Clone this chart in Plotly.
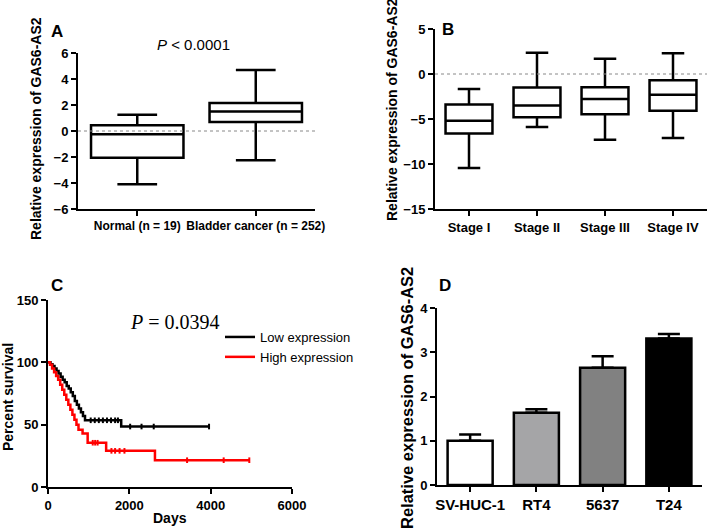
import plotly.graph_objects as go

# panel A: box summaries
a_groups = ["Normal (n = 19)", "Bladder cancer (n = 252)"]
a_low = [-4.1, -2.25]
a_q1 = [-2.05, 0.7]
a_med = [-0.25, 1.5]
a_q3 = [0.45, 2.15]
a_high = [1.25, 4.7]

# panel B: box summaries by stage
b_groups = ["Stage I", "Stage II", "Stage III", "Stage IV"]
b_low = [-10.45, -5.9, -7.3, -7.1]
b_q1 = [-6.6, -4.8, -4.47, -4.07]
b_med = [-5.2, -3.5, -2.77, -2.3]
b_q3 = [-3.4, -1.5, -1.48, -0.7]
b_high = [-1.66, 2.37, 1.7, 2.3]

# panel C: Kaplan-Meier steps
low_days = [0, 60, 110, 160, 210, 260, 310, 360, 410, 460, 510, 560, 610, 660,
            710, 760, 810, 860, 910, 1800, 3960]
low_surv = [100, 98.5, 97, 95, 93, 91, 88.5, 86, 84, 81, 79, 76, 73, 69,
            66, 63, 60, 57, 53.5, 48.5, 48.5]
low_cens_days = [1050, 1150, 1250, 1350, 1450, 1550, 1650, 1720, 2020, 2300, 2600, 3960]
low_cens_surv = [53.5, 53.5, 53.5, 53.5, 53.5, 53.5, 53.5, 53.5, 48.5, 48.5, 48.5, 48.5]

high_days = [0, 50, 100, 150, 200, 250, 300, 350, 400, 450, 500, 550, 600, 650,
             700, 750, 850, 975, 1430, 2630, 4950]
high_surv = [100, 98, 95, 92, 89, 86, 82, 78, 74, 70, 66, 62, 58, 54,
             50, 46, 43, 35.5, 29, 21.5, 21.5]
high_cens_days = [1100, 1160, 1220, 1560, 1650, 1760, 1880, 3420, 4320, 4950]
high_cens_surv = [35.5, 35.5, 35.5, 29, 29, 29, 29, 21.5, 21.5, 21.5]

# panel D: cell lines
d_cells = ["SV-HUC-1", "RT4", "5637", "T24"]
d_mean = [1.0, 1.63, 2.65, 3.31]
d_err = [0.14, 0.08, 0.26, 0.1]
d_colors = ["white", "#a5a5a7", "#818181", "black"]

W, H = 709, 530
FONT = "Arial, Liberation Sans, sans-serif"


def px_x(v):
    return v / W


def px_y(v):
    return 1 - v / H


fig = go.Figure()

box_style = dict(fillcolor="white", line=dict(color="black", width=2.5),
                 boxpoints=False, showlegend=False, hoverinfo="skip")

fig.add_trace(go.Box(x=a_groups, q1=a_q1, median=a_med, q3=a_q3,
                     lowerfence=a_low, upperfence=a_high,
                     width=0.78, whiskerwidth=0.43,
                     xaxis="x", yaxis="y", **box_style))

fig.add_trace(go.Box(x=b_groups, q1=b_q1, median=b_med, q3=b_q3,
                     lowerfence=b_low, upperfence=b_high,
                     width=0.69, whiskerwidth=0.48,
                     xaxis="x2", yaxis="y2", **box_style))

# survival curves
fig.add_trace(go.Scatter(x=low_days, y=low_surv, mode="lines", line_shape="hv",
                         line=dict(color="black", width=2.5),
                         name="Low expression", xaxis="x3", yaxis="y3"))
fig.add_trace(go.Scatter(x=high_days, y=high_surv, mode="lines", line_shape="hv",
                         line=dict(color="#ff0000", width=2.5),
                         name="High expression", xaxis="x3", yaxis="y3"))
fig.add_trace(go.Scatter(x=low_cens_days, y=low_cens_surv, mode="markers",
                         marker=dict(symbol="line-ns", size=4,
                                     line=dict(color="black", width=2)),
                         showlegend=False, xaxis="x3", yaxis="y3"))
fig.add_trace(go.Scatter(x=high_cens_days, y=high_cens_surv, mode="markers",
                         marker=dict(symbol="line-ns", size=4,
                                     line=dict(color="#ff0000", width=2)),
                         showlegend=False, xaxis="x3", yaxis="y3"))

# bars
fig.add_trace(go.Bar(x=d_cells, y=d_mean, width=0.68,
                     marker=dict(color=d_colors, line=dict(color="black", width=2.5)),
                     error_y=dict(type="data", array=d_err, arrayminus=[0] * 4,
                                  symmetric=False, color="black", thickness=2.5, width=11),
                     showlegend=False, xaxis="x4", yaxis="y4"))

axis_common = dict(showline=True, linecolor="black", linewidth=2, ticks="outside",
                   ticklen=5, tickwidth=2, tickcolor="black", showgrid=False,
                   zeroline=False, mirror=False, automargin=False, tickangle=0,
                   tickfont=dict(family=FONT, size=13, color="black", weight="bold"))

fig.update_layout(
    width=W, height=H, autosize=False,
    margin=dict(l=0, r=0, t=0, b=0),
    paper_bgcolor="white", plot_bgcolor="white",
    xaxis=dict(domain=[px_x(78), px_x(315)], anchor="y", range=[-0.5, 1.5], **axis_common),
    yaxis=dict(domain=[px_y(209), px_y(53)], anchor="x", range=[-6, 6], dtick=2, **axis_common),
    xaxis2=dict(domain=[px_x(435), px_x(707)], anchor="y2", range=[-0.5, 3.5], **axis_common),
    yaxis2=dict(domain=[px_y(209), px_y(29)], anchor="x2", range=[-15, 5], dtick=5, **axis_common),
    xaxis3=dict(domain=[px_x(48), px_x(292)], anchor="y3", range=[0, 6000], dtick=2000, **axis_common),
    yaxis3=dict(domain=[px_y(487), px_y(300)], anchor="x3", range=[0, 150], dtick=50, **axis_common),
    xaxis4=dict(domain=[px_x(437), px_x(702)], anchor="y4", range=[-0.5, 3.5], **axis_common),
    yaxis4=dict(domain=[px_y(485), px_y(308)], anchor="x4", range=[0, 4], dtick=1, **axis_common),
    legend=dict(x=px_x(220), y=px_y(322), xanchor="left", yanchor="top",
                bgcolor="rgba(0,0,0,0)", tracegroupgap=0,
                font=dict(family=FONT, size=13, color="black")),
    showlegend=True,
)
fig.update_layout(xaxis_tickfont_size=12, xaxis4_tickfont_size=15)

# dotted zero lines
for xr, yr in [("x", "y"), ("x2", "y2")]:
    fig.add_shape(type="line", xref=f"{xr} domain", yref=yr, x0=0, x1=1, y0=0, y1=0,
                  line=dict(color="#888888", width=1, dash="dot"))

ann = []
title_font = dict(family=FONT, size=14, color="black", weight="bold")
ann.append(dict(text="Relative expression of GAS6-AS2", x=px_x(36), y=px_y(129),
                textangle=-90, font=title_font))
ann.append(dict(text="Relative expression of GAS6-AS2", x=px_x(392), y=px_y(110),
                textangle=-90, font=title_font))
ann.append(dict(text="Relative expression of GAS6-AS2", x=px_x(407), y=px_y(398),
                textangle=-90, font=dict(family=FONT, size=16.5, color="black", weight="bold")))
ann.append(dict(text="Percent survival", x=px_x(8), y=px_y(397), textangle=-90, font=title_font))
ann.append(dict(text="Days", x=px_x(170), y=px_y(518), font=title_font))
ann.append(dict(text="<i>P</i> < 0.0001", x=px_x(193), y=px_y(45),
                font=dict(family=FONT, size=15, color="black")))
ann.append(dict(text="<i>P</i> = 0.0394", x=px_x(175), y=px_y(322),
                font=dict(family="Liberation Serif, Times New Roman, serif", size=20, color="black")))
label_font = dict(family=FONT, size=17, color="black", weight="bold")
for lab, lx, ly in [("A", 57, 32), ("B", 448, 30), ("C", 57, 285), ("D", 445, 285)]:
    ann.append(dict(text=lab, x=px_x(lx), y=px_y(ly), font=label_font))

for a in ann:
    fig.add_annotation(xref="paper", yref="paper", showarrow=False,
                       xanchor="center", yanchor="middle", **a)

# page body margin would push the figure 8px down/right
fig.write_html("out.html", config={"displayModeBar": False},
               post_script="document.body.style.margin = '0';")
